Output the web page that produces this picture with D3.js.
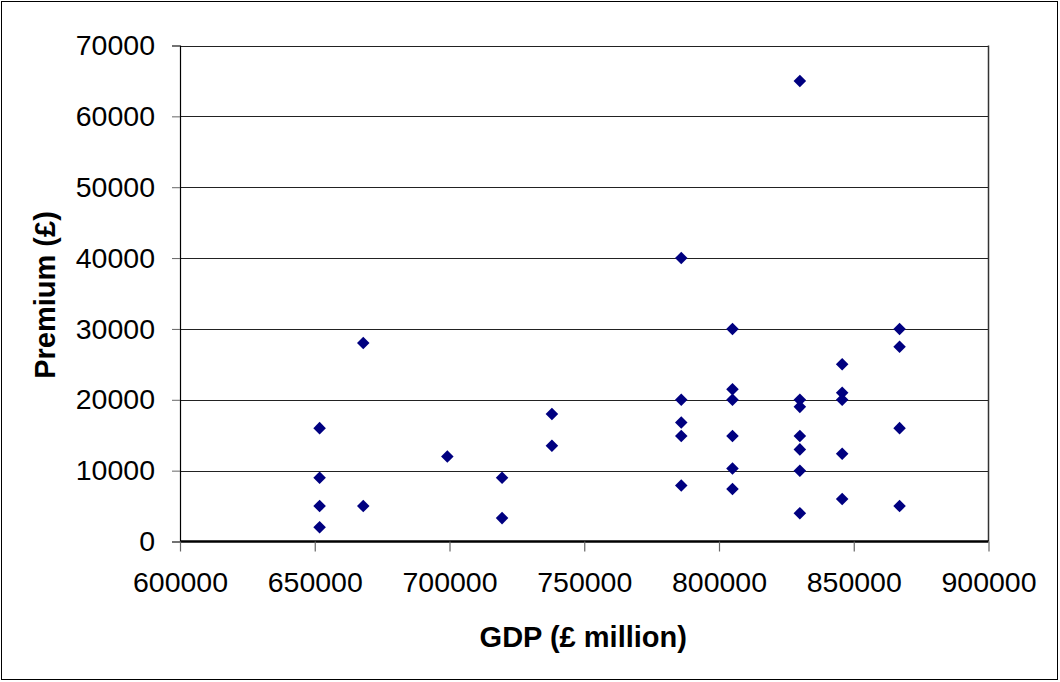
<!DOCTYPE html>
<html>
<head>
<meta charset="utf-8">
<script src="https://cdn.jsdelivr.net/npm/d3@7"></script>
<style>
  html, body { margin: 0; padding: 0; background: #fff; }
  svg { display: block; font-family: "Liberation Sans", Arial, sans-serif; }
</style>
</head>
<body>
<svg id="chart" width="1060" height="682"></svg>
<script>
// GDP (£ million) values for each point
const gdp = [
  651800, 651800, 651800, 651800,
  668000, 668000,
  699200,
  719500, 719500,
  738000, 738000,
  786000, 786000, 786000, 786000, 786000,
  805000, 805000, 805000, 805000, 805000, 805000,
  830000, 830000, 830000, 830000, 830000, 830000, 830000,
  845700, 845700, 845700, 845700, 845700,
  867000, 867000, 867000, 867000
];
// Premium (£) values, matching gdp by index
const premium = [
  16000, 9000, 5000, 2000,
  28000, 5000,
  12000,
  9000, 3300,
  18000, 13500,
  40000, 20000, 16800, 14900, 7900,
  30000, 21500, 20000, 14900, 10300, 7400,
  65000, 20000, 19000, 14900, 13000, 10000, 4000,
  25000, 21000, 20000, 12400, 6000,
  30000, 27500, 16000, 5000
];
const xTicks = [600000, 650000, 700000, 750000, 800000, 850000, 900000];
const yTicks = [0, 10000, 20000, 30000, 40000, 50000, 60000, 70000];
const xTitle = "GDP (£ million)";
const yTitle = "Premium (£)";

(function () {
const svg = d3.select("#chart");
const pL = 180, pR = 988.5, pT = 45.5, pB = 541.5;

const x = d3.scaleLinear().domain([600000, 900000]).range([pL, pR]);
const y = d3.scaleLinear().domain([0, 70000]).range([pB, pT]);

// outer border
svg.append("rect")
  .attr("x", 1.5).attr("y", 1.5).attr("width", 1056).attr("height", 678)
  .attr("fill", "none").attr("stroke", "#000").attr("stroke-width", 1);

// gridlines
svg.append("g").selectAll("line").data(yTicks.filter(d => d > 0)).join("line")
  .attr("x1", pL).attr("x2", pR)
  .attr("y1", d => Math.round(y(d)) + 0.5).attr("y2", d => Math.round(y(d)) + 0.5)
  .attr("stroke", "#222").attr("stroke-width", 1);

// right border of plot area
svg.append("line")
  .attr("x1", pR).attr("x2", pR).attr("y1", pT).attr("y2", pB)
  .attr("stroke", "#333").attr("stroke-width", 1.5);

// y axis
const yAxis = d3.axisLeft(y).tickValues(yTicks).tickSize(8).tickPadding(17)
  .tickFormat(d3.format("d"));
const gy = svg.append("g").attr("transform", `translate(${pL},0)`).call(yAxis);
gy.select(".domain").attr("stroke", "#000").attr("stroke-width", 1.2);
gy.selectAll(".tick line").attr("stroke", "#666");
gy.selectAll(".tick text").attr("font-size", 28.5).attr("fill", "#000")
  .attr("font-family", "'Liberation Sans', Arial, sans-serif");

// x axis
const xAxis = d3.axisBottom(x).tickValues(xTicks).tickSize(10).tickPadding(20)
  .tickFormat(d3.format("d"));
const gx = svg.append("g").attr("transform", `translate(0,${pB})`).call(xAxis);
gx.select(".domain").attr("stroke", "#000").attr("stroke-width", 2.5)
  .attr("d", `M${pL},0H${pR}`);
gx.selectAll(".tick line").attr("stroke", "#666").attr("stroke-width", 1.2);
gx.selectAll(".tick text").attr("font-size", 28.5).attr("fill", "#000")
  .attr("font-family", "'Liberation Sans', Arial, sans-serif");

// axis titles
svg.append("text")
  .attr("x", (pL + pR) / 2 - 1).attr("y", 647)
  .attr("text-anchor", "middle").attr("font-size", 29).attr("font-weight", "bold")
  .text(xTitle);
svg.append("text")
  .attr("transform", `translate(55,295) rotate(-90)`)
  .attr("text-anchor", "middle").attr("font-size", 29).attr("font-weight", "bold")
  .text(yTitle);

// points (diamonds)
const pts = gdp.map((g, i) => ({ g, p: premium[i] }));
const sym = d3.symbol().type(d3.symbolDiamond2).size(100);
svg.append("g").selectAll("path").data(pts).join("path")
  .attr("transform", d => `translate(${x(d.g)},${y(d.p)})`)
  .attr("d", sym)
  .attr("fill", "#000080");
})();
</script>
</body>
</html>
